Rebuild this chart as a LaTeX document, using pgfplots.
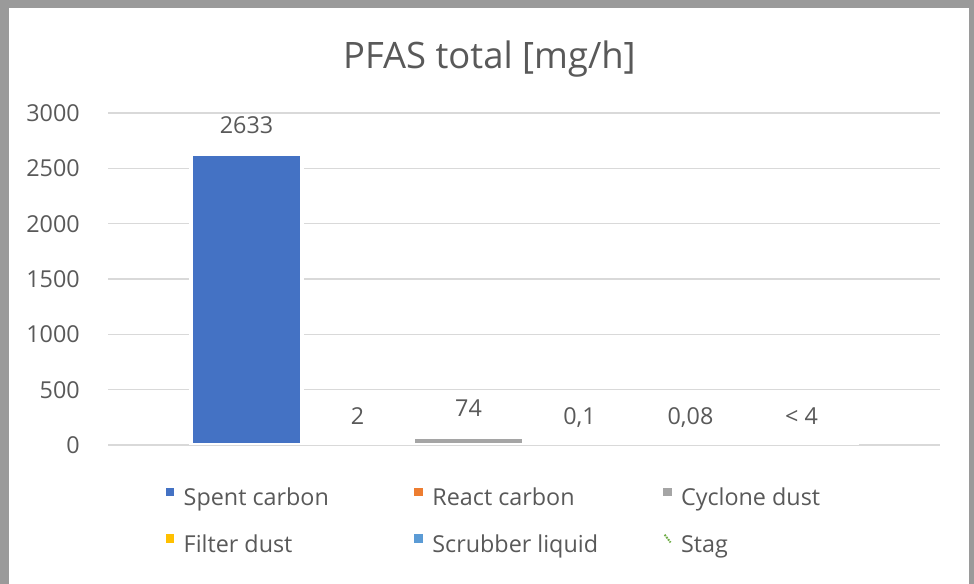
\documentclass[border=0pt]{standalone}
\usepackage{pgfplots}
\pgfplotsset{compat=1.18}
\usepackage{fontspec}
\setmainfont{Open Sans}
\definecolor{txt}{HTML}{595959}
\definecolor{gridc}{HTML}{D9D9D9}
\definecolor{framegray}{HTML}{9A9A9A}
\definecolor{c1}{HTML}{4472C4}
\definecolor{c2}{HTML}{ED7D31}
\definecolor{c3}{HTML}{A5A5A5}
\definecolor{c4}{HTML}{FFC000}
\definecolor{c5}{HTML}{5B9BD5}
\definecolor{c6}{HTML}{70AD47}
\newcommand{\lbox}[1]{\makebox[171.5pt][l]{#1}}
\begin{document}
\begin{tikzpicture}
\fill[framegray] (0,0) rectangle (730.5pt,438pt);
\fill[white] (6.75pt,0) rectangle (726.75pt,432pt);
\node[font=\fontsize{27.3}{32}\selectfont, text=txt, anchor=center] at (367.1pt,393.5pt) {PFAS total [mg/h]};
\begin{axis}[
  at={(81pt,104.25pt)}, anchor=south west,
  scale only axis, width=624pt, height=249pt,
  xmin=-1, xmax=1, ymin=0, ymax=3000,
  ytick={0,500,...,3000}, xtick=\empty,
  axis line style={draw=none},
  ymajorgrids, grid style={draw=gridc, line width=0.9pt},
  major tick length=0pt,
  yticklabel style={font=\fontsize{17.5}{21}\selectfont, text=txt, inner sep=0pt, xshift=-21pt},
  /pgf/number format/assume math mode=true,
  /pgf/number format/set thousands separator={},
  ybar=0pt, bar width=83.25pt,
  every axis plot/.append style={draw=white, line width=3pt},
  every node near coord/.append style={font=\fontsize{17.5}{21}\selectfont, text=txt, inner sep=0pt, text depth=0pt, yshift=13.5pt},
  legend columns=3,
  legend image code/.code={\fill[#1, draw=none] (0pt,2.6pt) rectangle (6.5pt,9.1pt); \path (0pt,0pt) (12pt,0pt);},
  legend style={at={(0.067,-0.1286)}, anchor=north west, draw=none, fill=none,
    inner sep=0pt, outer sep=0pt, column sep=0pt, row sep=16.9pt,
    nodes={inner sep=0pt, text=txt, font=\fontsize{17.5}{21}\selectfont, text height=13pt, text depth=4pt}},
]
\addplot[fill=c1, nodes near coords={2633}] coordinates {(0,2633)};
\addlegendentry{\lbox{Spent carbon}}
\addplot[fill=c2, nodes near coords={2}] coordinates {(0,2)};
\addlegendentry{\lbox{React carbon}}
\addplot[fill=c3, nodes near coords={74}] coordinates {(0,74)};
\addlegendentry{\lbox{Cyclone dust}}
\addplot[fill=c4, nodes near coords={0,1}] coordinates {(0,0.1)};
\addlegendentry{\lbox{Filter dust}}
\addplot[fill=c5, nodes near coords={0,08}] coordinates {(0,0.08)};
\addlegendentry{\lbox{Scrubber liquid}}
\addplot[fill=white, nodes near coords={< 4},
  legend image code/.code={\draw[c6, line width=1.5pt, dash pattern=on 1.3pt off 0.8pt] (1.2pt,8.8pt) -- (5.6pt,3pt); \path (0pt,0pt) (12pt,0pt);}] coordinates {(0,4)};
\addlegendentry{\lbox{Stag}}
\end{axis}
\end{tikzpicture}
\end{document}
